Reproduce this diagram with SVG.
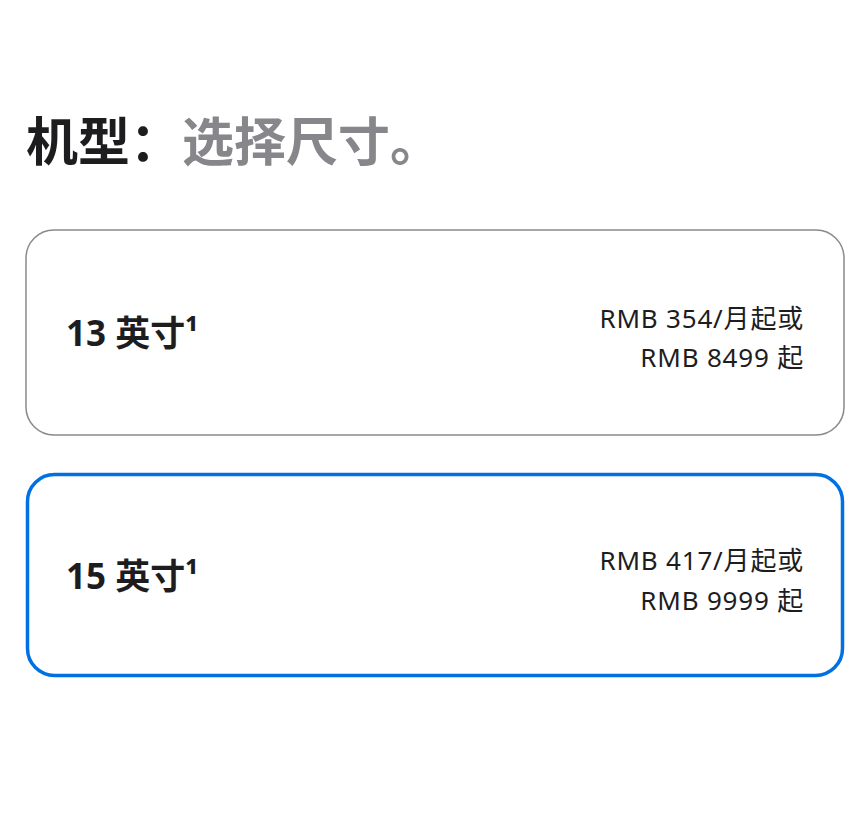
<svg xmlns="http://www.w3.org/2000/svg" width="864" height="824" viewBox="0 0 864 824">
<style>
text{font-family:"Noto Sans","Noto Sans CJK SC",sans-serif;}
.t{font-size:52px;font-weight:bold;fill:#1d1d1f}
.g{fill:#86868b;font-weight:600}
.n{font-size:35px;font-weight:bold;fill:#1d1d1f}
.p{font-size:26px;fill:#1d1d1f;text-anchor:end;letter-spacing:0.8px}
</style>
<rect width="864" height="824" fill="#fff"/>
<g id="title"><text x="26" y="161" class="t">机型：<tspan class="g">选择尺寸。</tspan></text></g>
<g id="opt13">
<rect x="26" y="230" width="818" height="205" rx="28" fill="#fff" stroke="#8a8a8e" stroke-width="1.5"/>
<text x="66" y="346" class="n">13 英寸¹</text>
<text x="804" y="328" class="p">RMB 354/月起或</text>
<text x="804" y="367" class="p">RMB 8499 起</text>
</g>
<g id="opt15">
<rect x="27.5" y="474.5" width="815" height="201" rx="27" fill="#fff" stroke="#0071e3" stroke-width="3.5"/>
<text x="66" y="589" class="n">15 英寸¹</text>
<text x="804" y="570" class="p">RMB 417/月起或</text>
<text x="804" y="610" class="p">RMB 9999 起</text>
</g>
</svg>
